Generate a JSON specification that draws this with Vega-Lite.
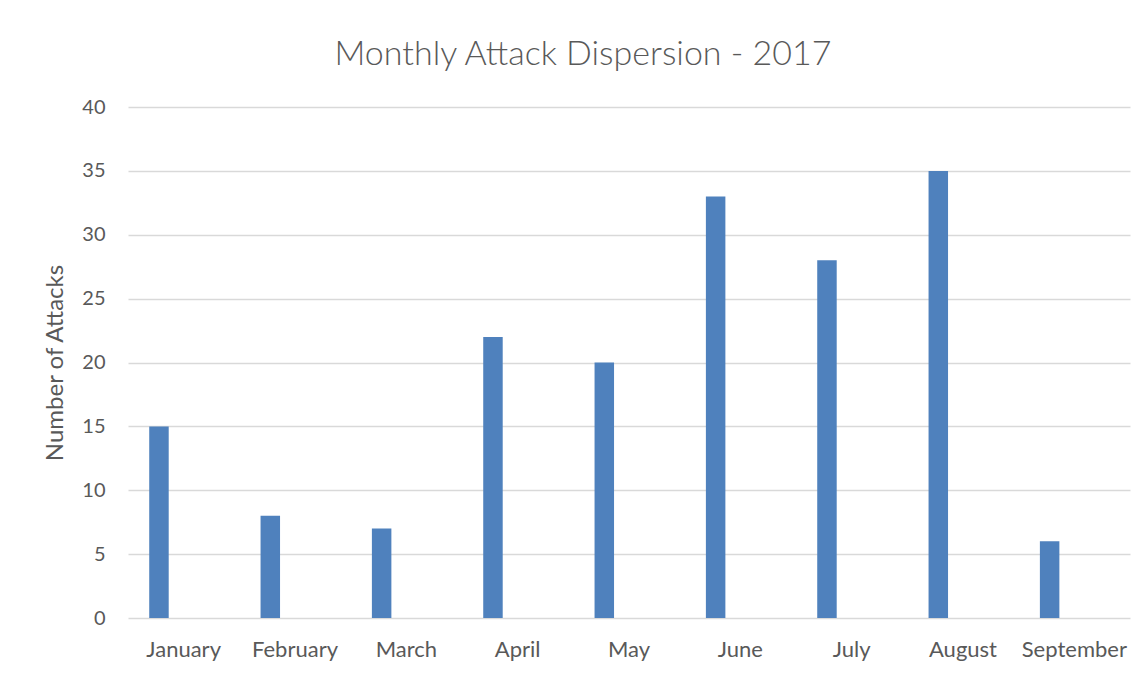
{
  "$schema": "https://vega.github.io/schema/vega-lite/v6.json",
  "autosize": "none",
  "width": 1002,
  "height": 511,
  "padding": {"left": 128, "top": 107, "right": 18, "bottom": 57},
  "background": "white",
  "title": {
    "text": "Monthly Attack Dispersion - 2017",
    "font": "Lato",
    "fontSize": 34,
    "fontWeight": 300,
    "color": "#595959",
    "anchor": "middle",
    "dx": -46,
    "offset": 25
  },
  "data": {
    "values": [
      {"month": "January", "attacks": 15},
      {"month": "February", "attacks": 8},
      {"month": "March", "attacks": 7},
      {"month": "April", "attacks": 22},
      {"month": "May", "attacks": 20},
      {"month": "June", "attacks": 33},
      {"month": "July", "attacks": 28},
      {"month": "August", "attacks": 35},
      {"month": "September", "attacks": 6}
    ]
  },
  "mark": {"type": "bar", "color": "#4f81bd", "width": {"band": 0.175}, "xOffset": -24.7},
  "encoding": {
    "x": {
      "field": "month",
      "type": "nominal",
      "sort": null,
      "scale": {"paddingInner": 0, "paddingOuter": 0},
      "axis": {
        "title": null,
        "labelAngle": 0,
        "labelFont": "Lato",
        "labelFontSize": 22,
        "labelColor": "#595959",
        "labelPadding": 21,
        "ticks": false,
        "domain": false,
        "grid": false
      }
    },
    "y": {
      "field": "attacks",
      "type": "quantitative",
      "scale": {"domain": [0, 40]},
      "axis": {
        "title": "Number of Attacks",
        "titleFont": "Lato",
        "titleFontSize": 24,
        "titleFontWeight": "normal",
        "titleColor": "#595959",
        "titlePadding": 14,
        "values": [0, 5, 10, 15, 20, 25, 30, 35, 40],
        "labelFont": "Lato",
        "labelFontSize": 20,
        "labelColor": "#595959",
        "labelPadding": 23,
        "ticks": false,
        "domain": false,
        "gridColor": "#d9d9d9",
        "gridWidth": 1.5
      }
    }
  },
  "config": {"view": {"stroke": null}}
}
